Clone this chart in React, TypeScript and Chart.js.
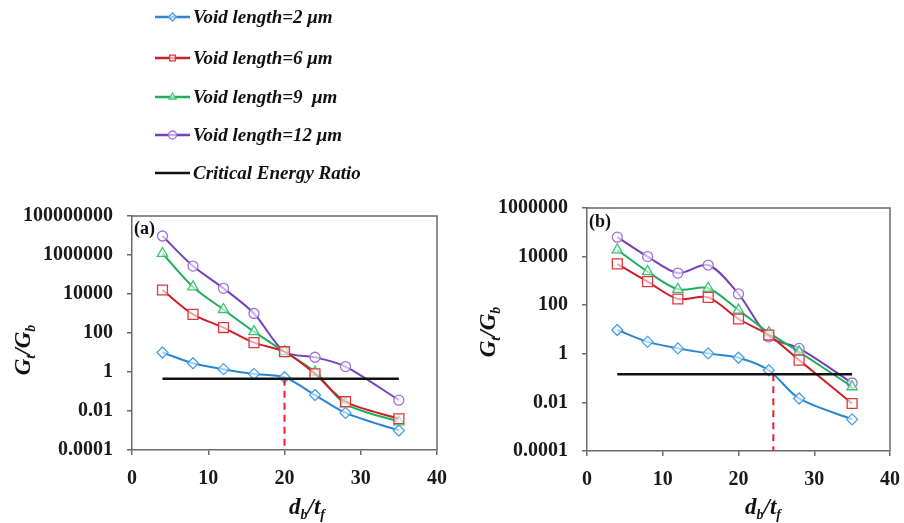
import React, { useEffect, useRef } from "react";
import { Chart, registerables } from "chart.js";

Chart.register(...registerables);

// ---------- data ----------
const xValues = [4, 8, 12, 16, 20, 24, 28, 35];
const seriesLabels = ["Void length=2 μm", "Void length=6 μm", "Void length=9  μm", "Void length=12 μm"];
const criticalLabel = "Critical Energy Ratio";

const leftVoid2 = [10, 2.8, 1.4, 0.8, 0.54, 0.066, 0.008, 0.001];
const leftVoid6 = [16000, 900, 190, 32, 11, 0.8, 0.03, 0.004];
const leftVoid9 = [1200000, 23000, 1600, 117, 11, 1.0, 0.023, 0.0028];
const leftVoid12 = [9400000, 270000, 19500, 1000, 11, 5.7, 1.9, 0.036];
const leftCritical = 0.45;
const leftCrossX = 20;

const rightVoid2 = [9.5, 3.1, 1.67, 1.04, 0.69, 0.21, 0.0145, 0.002];
const rightVoid6 = [5000, 930, 180, 210, 27, 5.9, 0.55, 0.009];
const rightVoid9 = [19000, 2400, 450, 500, 63, 7.4, 1.2, 0.044];
const rightVoid12 = [63000, 10000, 2100, 4500, 290, 5.0, 1.67, 0.063];
const rightCritical = 0.145;
const rightCrossX = 24.6;

const criticalRange = [4, 35];
const leftYTicks = [0.0001, 0.01, 1, 100, 10000, 1000000, 100000000];
const rightYTicks = [0.0001, 0.01, 1, 100, 10000, 1000000];
const xTicks = [0, 10, 20, 30, 40];

// ---------- styles ----------
const lineColors = ["#2A86D2", "#CC1F28", "#1FAE5C", "#7440BC"];
const markerColors = ["#45A2E6", "#E0383C", "#3CC476", "#9C72DA"];
const pointStyles = ["rectRot", "rect", "triangle", "circle"];
const pointRadii = [5.5, 7, 6, 5];
const SERIF = "'Liberation Serif', 'Times New Roman', serif";
const AXIS_COLOR = "#6a6a6a";

type Part = { t: string; sub?: boolean };

function drawRich(ctx: CanvasRenderingContext2D, parts: Part[], cx: number, cy: number, rotate: boolean, size: number) {
  ctx.save();
  ctx.translate(cx, cy);
  if (rotate) ctx.rotate(-Math.PI / 2);
  ctx.fillStyle = "#111";
  ctx.textBaseline = "alphabetic";
  ctx.textAlign = "left";
  const fontFor = (p: Part) => `italic bold ${p.sub ? Math.round(size * 0.62) : size}px ${SERIF}`;
  let total = 0;
  const widths = parts.map((p) => {
    ctx.font = fontFor(p);
    const w = ctx.measureText(p.t).width;
    total += w;
    return w;
  });
  let x = -total / 2;
  const base = size * 0.32;
  parts.forEach((p, i) => {
    ctx.font = fontFor(p);
    ctx.fillText(p.t, x, p.sub ? base + size * 0.22 : base);
    x += widths[i];
  });
  ctx.restore();
}

function drawMarker(ctx: CanvasRenderingContext2D, style: string, x: number, y: number, r: number, color: string) {
  ctx.save();
  ctx.strokeStyle = color;
  ctx.fillStyle = "rgba(255,255,255,0.6)";
  ctx.lineWidth = 1.3;
  ctx.beginPath();
  if (style === "circle") {
    ctx.arc(x, y, r, 0, Math.PI * 2);
  } else if (style === "rect") {
    const s = r * Math.SQRT1_2;
    ctx.rect(x - s, y - s, 2 * s, 2 * s);
  } else if (style === "rectRot") {
    ctx.moveTo(x, y - r);
    ctx.lineTo(x + r, y);
    ctx.lineTo(x, y + r);
    ctx.lineTo(x - r, y);
    ctx.closePath();
  } else {
    const h = r * 1.5;
    ctx.moveTo(x, y - r);
    ctx.lineTo(x + h / Math.sqrt(3), y - r + h);
    ctx.lineTo(x - h / Math.sqrt(3), y - r + h);
    ctx.closePath();
  }
  ctx.fill();
  ctx.stroke();
  ctx.restore();
}

type Panel = {
  series: number[][];
  critical: number;
  crossX: number;
  yMax: number;
  yTicks: number[];
  yWidth: number;
  padding: { left: number; top: number; right: number; bottom: number };
  tag: string;
  tagPos: [number, number];
  yTitlePos: [number, number];
  xTitlePos: [number, number];
  legend: boolean;
};

const X_AXIS_HEIGHT = 40;

function makeConfig(p: Panel): any {
  const datasets: any[] = p.series.map((vals, i) => ({
    label: seriesLabels[i],
    data: xValues.map((x, j) => ({ x, y: vals[j] })),
    borderColor: lineColors[i],
    backgroundColor: lineColors[i],
    borderWidth: 2,
    tension: 0.3,
    pointStyle: pointStyles[i],
    pointRadius: pointRadii[i],
    pointBorderColor: markerColors[i],
    pointBackgroundColor: "rgba(255,255,255,0.6)",
    pointBorderWidth: 1.3,
    order: 1,
  }));
  datasets.push({
    label: criticalLabel,
    data: criticalRange.map((x) => ({ x, y: p.critical })),
    borderColor: "#111111",
    borderWidth: 2.5,
    pointRadius: 0,
    tension: 0,
    order: 0,
  });
  datasets.push({
    label: "crossing",
    data: [
      { x: p.crossX, y: p.critical },
      { x: p.crossX, y: p.yTicks[0] },
    ],
    borderColor: "#E8202A",
    borderWidth: 2,
    borderDash: [7, 5],
    pointRadius: 0,
    tension: 0,
    order: 0,
  });

  const decorations = {
    id: "decorations" + p.tag,
    afterDraw(chart: any) {
      const ctx: CanvasRenderingContext2D = chart.ctx;
      const a = chart.chartArea;
      ctx.save();
      ctx.strokeStyle = AXIS_COLOR;
      ctx.lineWidth = 1.5;
      ctx.beginPath();
      ctx.moveTo(a.left, a.top);
      ctx.lineTo(a.right, a.top);
      ctx.lineTo(a.right, a.bottom);
      ctx.stroke();
      ctx.restore();
      ctx.save();
      ctx.font = `bold 18px ${SERIF}`;
      ctx.fillStyle = "#111";
      ctx.textBaseline = "middle";
      ctx.textAlign = "left";
      ctx.fillText(p.tag, p.tagPos[0], p.tagPos[1]);
      ctx.restore();
      drawRich(ctx, [{ t: "G" }, { t: "t", sub: true }, { t: "/G" }, { t: "b", sub: true }], p.yTitlePos[0], p.yTitlePos[1], true, 23);
      drawRich(ctx, [{ t: "d" }, { t: "b", sub: true }, { t: "/t" }, { t: "f", sub: true }], p.xTitlePos[0], p.xTitlePos[1], false, 23);
      if (p.legend) {
        const rows = [17, 58, 97, 135, 173];
        const labels = [...seriesLabels, criticalLabel];
        labels.forEach((lab, i) => {
          const y = rows[i];
          const color = i < 4 ? lineColors[i] : "#111111";
          ctx.save();
          ctx.strokeStyle = color;
          ctx.lineWidth = 2.5;
          ctx.beginPath();
          ctx.moveTo(155, y);
          ctx.lineTo(190, y);
          ctx.stroke();
          ctx.restore();
          if (i < 4) drawMarker(ctx, pointStyles[i], 172.5, y, 4, markerColors[i]);
          ctx.save();
          ctx.font = `italic bold 19px ${SERIF}`;
          ctx.fillStyle = "#111";
          ctx.textBaseline = "middle";
          ctx.textAlign = "left";
          ctx.fillText(lab, 193, y + 1);
          ctx.restore();
        });
      }
    },
  };

  const tickFont = { family: SERIF, size: 20, weight: "bold" as const };

  return {
    type: "line",
    data: { datasets },
    plugins: [decorations],
    options: {
      animation: false,
      responsive: false,
      maintainAspectRatio: false,
      layout: { padding: p.padding },
      plugins: { legend: { display: false }, tooltip: { enabled: false } },
      scales: {
        x: {
          type: "linear",
          min: 0,
          max: 40,
          afterBuildTicks: (s: any) => {
            s.ticks = xTicks.map((v) => ({ value: v }));
          },
          afterFit: (s: any) => {
            s.height = X_AXIS_HEIGHT;
            s.paddingLeft = 0;
            s.paddingRight = 0;
          },
          ticks: { font: tickFont, color: "#1a1a1a", padding: 12, autoSkip: false, maxRotation: 0 },
          grid: { drawOnChartArea: false, drawTicks: true, tickLength: 5, color: AXIS_COLOR, lineWidth: 1.5 },
          border: { display: true, color: AXIS_COLOR, width: 1.5 },
        },
        y: {
          type: "logarithmic",
          min: p.yTicks[0],
          max: p.yMax,
          afterBuildTicks: (s: any) => {
            s.ticks = p.yTicks.map((v) => ({ value: v }));
          },
          afterFit: (s: any) => {
            s.width = p.yWidth;
            s.paddingTop = 0;
            s.paddingBottom = 0;
          },
          ticks: {
            font: tickFont,
            color: "#1a1a1a",
            padding: 14,
            autoSkip: false,
            callback: (v: any) => String(v),
          },
          grid: { drawOnChartArea: false, drawTicks: true, tickLength: 5, color: AXIS_COLOR, lineWidth: 1.5 },
          border: { display: true, color: AXIS_COLOR, width: 1.5 },
        },
      },
    },
  };
}

const leftPanel: Panel = {
  series: [leftVoid2, leftVoid6, leftVoid9, leftVoid12],
  critical: leftCritical,
  crossX: leftCrossX,
  yMax: 100000000,
  yTicks: leftYTicks,
  yWidth: 132,
  padding: { left: 0, top: 216, right: 15, bottom: 73 - X_AXIS_HEIGHT },
  tag: "(a)",
  tagPos: [134, 229],
  yTitlePos: [23, 350],
  xTitlePos: [307, 507],
  legend: true,
};

const rightPanel: Panel = {
  series: [rightVoid2, rightVoid6, rightVoid9, rightVoid12],
  critical: rightCritical,
  crossX: rightCrossX,
  yMax: 1000000,
  yTicks: rightYTicks,
  yWidth: 135,
  padding: { left: 0, top: 208, right: 14, bottom: 72 - X_AXIS_HEIGHT },
  tag: "(b)",
  tagPos: [137, 222],
  yTitlePos: [36, 332],
  xTitlePos: [311, 507],
  legend: false,
};

function ChartCanvas({ panel, left }: { panel: Panel; left: number }) {
  const ref = useRef<HTMLCanvasElement | null>(null);
  useEffect(() => {
    if (!ref.current) return;
    const chart = new Chart(ref.current, makeConfig(panel));
    return () => chart.destroy();
  }, [panel]);
  return (
    <canvas
      ref={ref}
      width={452}
      height={523}
      style={{ position: "absolute", left, top: 0, width: 452, height: 523 }}
    />
  );
}

export default function App() {
  return (
    <div
      style={{
        position: "fixed",
        left: 0,
        top: 0,
        width: 904,
        height: 523,
        background: "#ffffff",
        overflow: "hidden",
      }}
    >
      <ChartCanvas panel={leftPanel} left={0} />
      <ChartCanvas panel={rightPanel} left={452} />
    </div>
  );
}
